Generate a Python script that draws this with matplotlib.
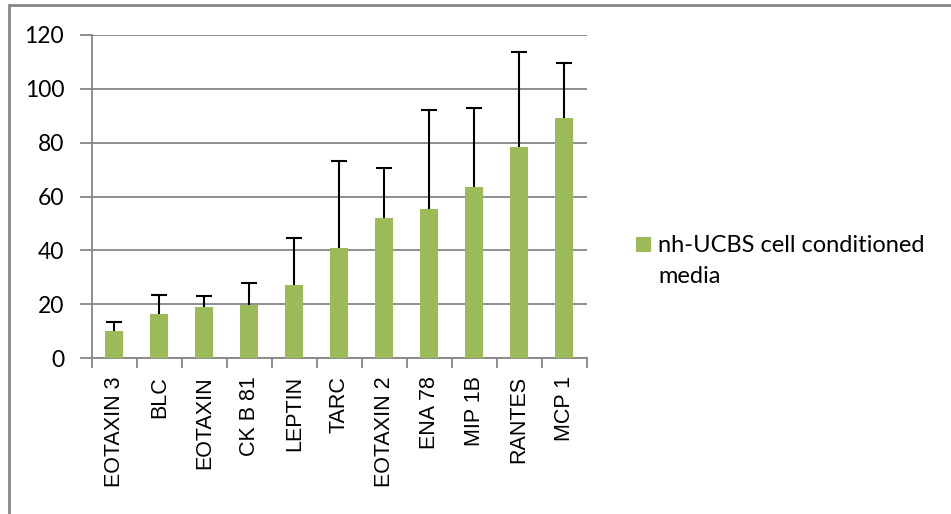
import matplotlib
matplotlib.use("Agg")
import matplotlib.pyplot as plt
import numpy as np
from matplotlib.patches import Rectangle

categories = ["EOTAXIN 3", "BLC", "EOTAXIN", "CK B 81", "LEPTIN", "TARC",
              "EOTAXIN 2", "ENA 78", "MIP 1B", "RANTES", "MCP 1"]
values = [10.0, 16.3, 19.1, 19.9, 27.1, 40.9, 52.1, 55.2, 63.5, 78.2, 89.1]
errors = [3.5, 7.3, 4.0, 8.0, 17.4, 32.1, 18.3, 37.0, 29.4, 35.4, 20.4]
series_label_lines = ["nh-UCBS cell conditioned", "media"]
yticks = [0, 20, 40, 60, 80, 100, 120]

green = "#9BBB59"
gray = "#868686"
W, H = 951, 514

fig = plt.figure(figsize=(9.51, 5.14), dpi=100)
ax = fig.add_axes([92/W, 1-358.3/H, (586.7-92)/W, (358.3-34.7)/H])

x = np.arange(len(categories))
ax.bar(x, values, width=0.4, color=green, zorder=3)
eb = ax.errorbar(x, values, yerr=[np.zeros(len(errors)), errors], fmt="none",
                 ecolor="black", elinewidth=1.5, capsize=6, capthick=1.5, zorder=4)
eb[1][0].set_visible(False)

ax.set_xlim(-0.5, len(categories) - 0.5)
ax.set_ylim(0, 120)
ax.set_yticks(yticks)
ax.set_yticklabels([str(t) for t in yticks], fontfamily="Lato", fontsize=16.5)
ax.set_xticks(x)
ax.set_xticklabels(categories, rotation=90, fontfamily="Liberation Sans", fontsize=15.5)
ax.tick_params(axis="x", which="major", length=0, pad=13)
ax.set_xticks(np.arange(-0.5, len(categories)), minor=True)
ax.tick_params(axis="x", which="minor", length=7, width=1.3, color=gray, direction="out")
ax.tick_params(axis="y", length=9, width=1.3, color=gray, direction="out", pad=11)
ax.yaxis.grid(True, color=gray, linewidth=1.3, zorder=0)
ax.set_axisbelow(True)
for s in ["top", "right"]:
    ax.spines[s].set_visible(False)
for s in ["left", "bottom"]:
    ax.spines[s].set_color(gray)
    ax.spines[s].set_linewidth(1.3)

# legend (manual, two lines with square aligned to the first line)
fig.patches.append(Rectangle((636/W, 1-251.7/H), 15/W, 14.4/H,
                             transform=fig.transFigure, facecolor=green,
                             edgecolor="none"))
fig.text(658.3/W, 1-251.7/H, series_label_lines[0], family="Lato", fontsize=17,
         va="baseline", ha="left")
fig.text(658.3/W, 1-283.3/H, series_label_lines[1], family="Lato", fontsize=17,
         va="baseline", ha="left")

fig.patches.append(Rectangle((8.5/W, -0.1), 1.2, 1.1 - 5.5/H,
                             transform=fig.transFigure, fill=False,
                             edgecolor=gray, linewidth=2, zorder=0))

fig.savefig("out.png", dpi=100)
